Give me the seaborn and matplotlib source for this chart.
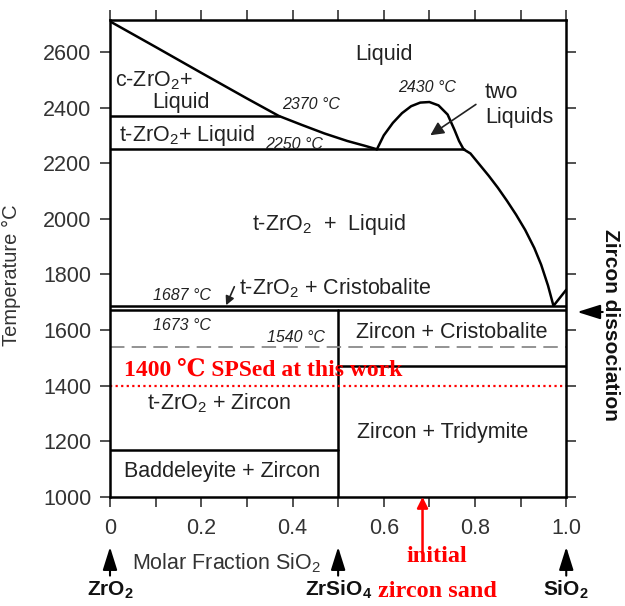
import numpy as np
import pandas as pd
import seaborn as sns
import matplotlib.pyplot as plt

# liquidus ZrO2 side
liq_left_x = [0.0, 0.1, 0.2, 0.3, 0.37, 0.42, 0.47, 0.52, 0.56, 0.585]
liq_left_t = [2710, 2618, 2525, 2433, 2370, 2338, 2307, 2280, 2262, 2250]

# two liquid dome
dome_x = [0.585, 0.60, 0.62, 0.64, 0.66, 0.68, 0.70, 0.72, 0.74, 0.755, 0.765, 0.775]
dome_t = [2250, 2300, 2345, 2380, 2405, 2418, 2420, 2408, 2375, 2320, 2280, 2250]

# liquidus SiO2 side
liq_right_x = [0.775, 0.79, 0.81, 0.83, 0.85, 0.87, 0.89, 0.91, 0.93, 0.945, 0.96, 0.972, 1.0]
liq_right_t = [2250, 2235, 2195, 2155, 2112, 2065, 2015, 1960, 1895, 1835, 1760, 1687, 1745]

# solid boundaries: start x, end x, temperature
h_x0 = [0.0, 0.0, 0.0, 0.0, 0.0, 0.5]
h_x1 = [0.37, 0.775, 1.0, 1.0, 0.5, 1.0]
h_t = [2370, 2250, 1687, 1673, 1170, 1470]

zircon_x = 0.5
zircon_t = [1000, 1673]
alpha_t = 1540
sps_t = 1400

x_ticks = [0, 0.1, 0.2, 0.3, 0.4, 0.5, 0.6, 0.7, 0.8, 0.9, 1.0]
x_labels = ['0', '', '0.2', '', '0.4', '', '0.6', '', '0.8', '', '1.0']
y_ticks = [1000, 1200, 1400, 1600, 1800, 2000, 2200, 2400, 2600]

sns.set_theme(style="ticks")
plt.rcParams['font.family'] = ['Liberation Sans', 'DejaVu Sans']
plt.rcParams['mathtext.fontset'] = 'custom'
plt.rcParams['mathtext.rm'] = 'Liberation Sans'
plt.rcParams['mathtext.it'] = 'Liberation Sans:italic'
plt.rcParams['mathtext.bf'] = 'Liberation Sans:bold'

fig = plt.figure(figsize=(6.25, 6.06), dpi=100)
ax = fig.add_axes([0.176, 0.18, 0.73, 0.787])

lw = 1.8
sns.lineplot(x=liq_left_x, y=liq_left_t, ax=ax, color='black', lw=lw, sort=False, estimator=None)
sns.lineplot(x=dome_x, y=dome_t, ax=ax, color='black', lw=lw, sort=False, estimator=None)
sns.lineplot(x=liq_right_x, y=liq_right_t, ax=ax, color='black', lw=lw, sort=False, estimator=None)

for x0, x1, t in zip(h_x0, h_x1, h_t):
    sns.lineplot(x=[x0, x1], y=[t, t], ax=ax, color='black', lw=lw, estimator=None)
sns.lineplot(x=[zircon_x, zircon_x], y=zircon_t, ax=ax, color='black', lw=lw, sort=False, estimator=None)

ax.plot([0, 1], [alpha_t, alpha_t], color='#8a8a8a', lw=1.3, dashes=(8, 4))
ax.plot([0, 1], [sps_t, sps_t], color='red', lw=1.6, ls=(0, (1, 1.5)))

ax.set_xlim(0, 1)
ax.set_ylim(1000, 2715)
ax.set_xticks(x_ticks)
ax.set_xticklabels(x_labels)
ax.set_yticks(y_ticks)
ax.tick_params(direction='out', top=True, right=True, length=7.5, width=1.2,
               labelsize=15.5, colors='#333333', pad=6)
ax.tick_params(axis='x', pad=8)
for s in ax.spines.values():
    s.set_linewidth(1.8)
    s.set_color('black')

ax.set_ylabel('Temperature °C', fontsize=14.5, color='#333333')
ax.yaxis.set_label_coords(-0.195, 0.465)
ax.set_xlabel('Molar Fraction SiO$_2$', fontsize=15.5, color='#333333')
ax.xaxis.set_label_coords(0.255, -0.115)

tc = '#222222'
fs = 15.5
ax.text(0.60, 2590, 'Liquid', fontsize=fs, color=tc, ha='center', va='center')
ax.text(0.012, 2496, 'c-ZrO$_2$+', fontsize=fs, color=tc, ha='left', va='center')
ax.text(0.155, 2417, 'Liquid', fontsize=fs, color=tc, ha='center', va='center')
ax.text(0.02, 2300, 't-ZrO$_2$+ Liquid', fontsize=fs, color=tc, ha='left', va='center')
ax.text(0.822, 2456, 'two', fontsize=fs, color=tc, ha='left', va='center')
ax.text(0.822, 2363, 'Liquids', fontsize=fs, color=tc, ha='left', va='center')
ax.annotate('', xy=(0.697, 2295), xytext=(0.807, 2417),
            arrowprops=dict(arrowstyle='-|>', color='#222222', lw=1.2, mutation_scale=20))
ax.text(0.48, 1978, 't-ZrO$_2$  +  Liquid', fontsize=fs, color=tc, ha='center', va='center')
ax.text(0.283, 1752, 't-ZrO$_2$ + Cristobalite', fontsize=fs, color=tc, ha='left', va='center')
ax.annotate('', xy=(0.252, 1680), xytext=(0.275, 1765),
            arrowprops=dict(arrowstyle='-|>', color='#222222', lw=1.2, mutation_scale=13))
ax.text(0.75, 1593, 'Zircon + Cristobalite', fontsize=fs, color=tc, ha='center', va='center')
ax.text(0.24, 1338, 't-ZrO$_2$ + Zircon', fontsize=fs, color=tc, ha='center', va='center')
ax.text(0.245, 1090, 'Baddeleyite + Zircon', fontsize=fs, color=tc, ha='center', va='center')
ax.text(0.73, 1230, 'Zircon + Tridymite', fontsize=fs, color=tc, ha='center', va='center')

ifs = 11.5
ax.text(0.378, 2410, '2370 °C', fontsize=ifs, style='italic', color=tc, ha='left', va='center')
ax.text(0.34, 2266, '2250 °C', fontsize=ifs, style='italic', color=tc, ha='left', va='center')
ax.text(0.695, 2471, '2430 °C', fontsize=ifs, style='italic', color=tc, ha='center', va='center')
ax.text(0.095, 1723, '1687 °C', fontsize=ifs, style='italic', color=tc, ha='left', va='center')
ax.text(0.095, 1618, '1673 °C', fontsize=ifs, style='italic', color=tc, ha='left', va='center')
ax.text(0.345, 1572, '1540 °C', fontsize=ifs, style='italic', color=tc, ha='left', va='center')

serif = ['Liberation Serif', 'DejaVu Serif']
ax.text(0.03, 1457, '1400 ℃ SPSed at this work', fontsize=17, fontweight='bold',
        color='red', family=serif, ha='left', va='center')

arrow_kw = dict(arrowstyle='-|>,head_length=0.7,head_width=0.22', color='black',
                lw=1.5, mutation_scale=20, shrinkA=0, shrinkB=0)

tr = ax.get_xaxis_transform()
end_labels = ['ZrO$_\\mathbf{2}$', 'ZrSiO$_\\mathbf{4}$', 'SiO$_\\mathbf{2}$']
for xp, lab in zip([0.0, 0.5, 1.0], end_labels):
    ax.annotate('', xy=(xp, -0.105), xytext=(xp, -0.165), xycoords=tr, textcoords=tr,
                arrowprops=arrow_kw)
    ax.text(xp, -0.195, lab, transform=tr, fontsize=15, fontweight='bold', color='#111111',
            ha='center', va='center')

ax.annotate('', xy=(0.685, 0.0), xytext=(0.685, -0.118), xycoords=tr, textcoords=tr,
            arrowprops=dict(arrowstyle='-|>', color='red', lw=1.8, mutation_scale=16,
                            shrinkA=0, shrinkB=0))
ax.text(0.717, -0.125, 'initial', transform=tr, fontsize=17.5, fontweight='bold',
        color='red', family=serif, ha='center', va='center')
ax.text(0.717, -0.198, 'zircon sand', transform=tr, fontsize=17.5, fontweight='bold',
        color='red', family=serif, ha='center', va='center')

ax.text(1.097, 1618, 'Zircon dissociation', fontsize=15, fontweight='bold', color='#111111',
        rotation=-90, ha='center', va='center', transform=ax.transData, clip_on=False)
ax.annotate('', xy=(1.024, 1665), xytext=(1.08, 1665), arrowprops=arrow_kw,
            annotation_clip=False)

fig.savefig('out.png', dpi=100)
